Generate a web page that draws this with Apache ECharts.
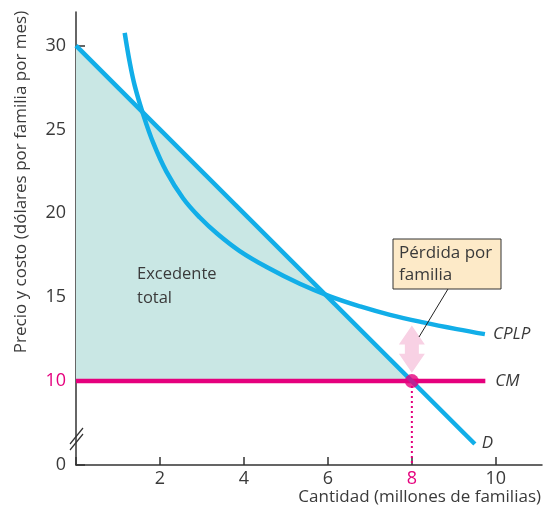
<!DOCTYPE html>
<html>
<head>
<meta charset="utf-8">
<script src="https://cdn.jsdelivr.net/npm/echarts@6/dist/echarts.min.js"></script>
<style>
html, body { margin: 0; padding: 0; background: #fff; }
#main { width: 543px; height: 514px; }
</style>
</head>
<body>
<div id="main"></div>
<script>
// curves (x = millions of families, y = dollars)
var demand = [[0, 30], [9.5, 6.25]];
var cplp = [[1.16, 30.76], [1.28, 29.0], [1.4, 27.6], [1.6, 25.9], [1.84, 24.2],
            [2.15, 22.5], [2.55, 20.9], [2.95, 19.75], [3.38, 18.75], [3.9, 17.75],
            [4.54, 16.8], [5.33, 15.8], [6.05, 15.05], [6.77, 14.45], [7.48, 13.95],
            [8.27, 13.5], [9.07, 13.1], [9.74, 12.8]];
var cm = [[0, 10], [9.75, 10]];
var surplus = [[0, 30], [8, 10], [0, 10]];
var equilibrium = [[8, 10]];
var dropLine = [[8, 10], [8, 5]];
var lossArrow = [[8, 10.5], [8, 13.32]];

var blue = '#12aee8';
var magenta = '#e5007d';
var textColor = '#3a3a3a';
var font = 'Open Sans';

var myChart = echarts.init(document.getElementById('main'));

var option = {
    animation: false,
    textStyle: { fontFamily: font },
    grid: { left: 76, right: 1, top: 12, bottom: 49 },
    xAxis: {
        type: 'value',
        min: 0,
        max: 11.1,
        interval: 2,
        splitLine: { show: false },
        axisLine: { lineStyle: { color: '#333', width: 1.5 } },
        axisTick: { inside: true, length: 8, lineStyle: { color: '#333', width: 1.5 } },
        axisLabel: {
            margin: 5,
            fontSize: 18,
            color: textColor,
            showMaxLabel: false,
            formatter: function (v) {
                if (v === 0) return '';
                if (v === 8) return '{m|8}';
                return v;
            },
            rich: { m: { color: magenta, fontSize: 18, fontFamily: font } }
        }
    },
    yAxis: {
        type: 'value',
        min: 5,
        max: 32,
        interval: 5,
        splitLine: { show: false },
        axisLine: { lineStyle: { color: '#333', width: 1.5 } },
        axisTick: { inside: true, length: 9, lineStyle: { color: '#333', width: 1.5 } },
        axisLabel: {
            margin: 10,
            fontSize: 18,
            color: textColor,
            showMaxLabel: false,
            formatter: function (v) {
                if (v === 5) return '0';
                if (v === 10) return '{m|10}';
                return v;
            },
            rich: { m: { color: magenta, fontSize: 18, fontFamily: font } }
        }
    },
    series: [
        {
            type: 'custom',
            name: 'surplus',
            data: [surplus[0]],
            z: 1,
            renderItem: function (params, api) {
                var pts = surplus.map(function (p) { return api.coord(p); });
                return { type: 'polygon', shape: { points: pts }, style: { fill: '#c9e7e4' } };
            }
        },
        {
            type: 'line',
            name: 'drop',
            data: dropLine,
            symbol: 'none',
            z: 2,
            lineStyle: { color: magenta, width: 2, type: [2, 3] }
        },
        {
            type: 'custom',
            name: 'arrow',
            data: [lossArrow[0]],
            z: 2,
            renderItem: function (params, api) {
                var b = api.coord(lossArrow[0]);
                var t = api.coord(lossArrow[1]);
                var cx = b[0], hw = 13, sw = 7, hh = 19;
                var pts = [
                    [cx, t[1]], [cx + hw, t[1] + hh], [cx + sw, t[1] + hh],
                    [cx + sw, b[1] - hh], [cx + hw, b[1] - hh], [cx, b[1]],
                    [cx - hw, b[1] - hh], [cx - sw, b[1] - hh], [cx - sw, t[1] + hh],
                    [cx - hw, t[1] + hh]
                ];
                return { type: 'polygon', shape: { points: pts }, style: { fill: '#f8d1e4' } };
            }
        },
        {
            type: 'line',
            name: 'CM',
            data: cm,
            symbol: 'none',
            z: 3,
            lineStyle: { color: magenta, width: 4.5 },
            endLabel: { show: true, formatter: 'CM', distance: 10, fontSize: 17, fontStyle: 'italic', color: textColor }
        },
        {
            type: 'line',
            name: 'D',
            data: demand,
            symbol: 'none',
            z: 4,
            lineStyle: { color: blue, width: 4.5 },
            endLabel: { show: true, formatter: 'D', distance: 7, offset: [0, -1], fontSize: 17, fontStyle: 'italic', color: textColor }
        },
        {
            type: 'line',
            name: 'CPLP',
            data: cplp,
            symbol: 'none',
            smooth: 0.4,
            z: 4,
            lineStyle: { color: blue, width: 4.5 },
            endLabel: { show: true, formatter: 'CPLP', distance: 8, fontSize: 17, fontStyle: 'italic', color: textColor }
        },
        {
            type: 'scatter',
            name: 'eq',
            data: equilibrium,
            symbolSize: 14,
            z: 5,
            itemStyle: { color: magenta }
        }
    ],
    graphic: [
        {
            type: 'text', x: 21, y: 182, rotation: Math.PI / 2,
            style: {
                text: 'Precio y costo (dólares por familia por mes)',
                font: '17px ' + font, fill: textColor, align: 'center', verticalAlign: 'middle'
            }
        },
        {
            type: 'text', x: 541, y: 497,
            style: {
                text: 'Cantidad (millones de familias)',
                font: '17px ' + font, fill: textColor, align: 'right', verticalAlign: 'middle'
            }
        },
        {
            type: 'text', x: 137, y: 262, z: 10,
            style: {
                text: 'Excedente\ntotal', lineHeight: 24,
                font: '16.5px ' + font, fill: textColor, align: 'left', verticalAlign: 'top'
            }
        },
        {
            type: 'line', z: 10,
            shape: { x1: 448, y1: 289, x2: 419, y2: 337 },
            style: { stroke: '#222', lineWidth: 1 }
        },
        {
            type: 'rect', z: 10,
            shape: { x: 393, y: 239, width: 108, height: 50 },
            style: { fill: '#fdeac8', stroke: '#333', lineWidth: 1 }
        },
        {
            type: 'text', x: 399, y: 242, z: 11,
            style: {
                text: 'Pérdida por\nfamilia', lineHeight: 22,
                font: '17px ' + font, fill: textColor, align: 'left', verticalAlign: 'top'
            }
        },
        {
            type: 'line', z: 10,
            shape: { x1: 70, y1: 444, x2: 83, y2: 428 },
            style: { stroke: '#333', lineWidth: 1.2 }
        },
        {
            type: 'line', z: 10,
            shape: { x1: 70, y1: 450, x2: 83, y2: 434 },
            style: { stroke: '#333', lineWidth: 1.2 }
        }
    ]
};
myChart.setOption(option);
</script>
</body>
</html>
